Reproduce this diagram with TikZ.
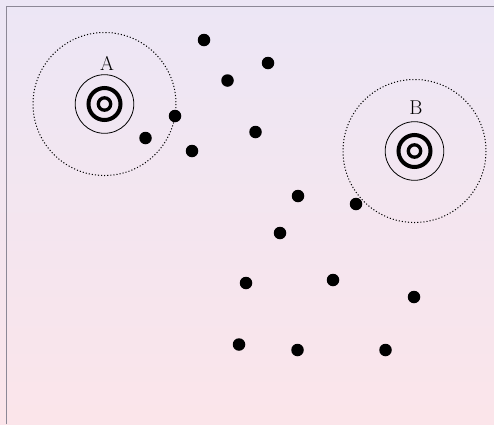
\documentclass[tikz,border=0pt]{standalone}
\usepackage{tikz}
\definecolor{bgtop}{RGB}{236,230,245}
\definecolor{bgbottom}{RGB}{251,229,234}
\definecolor{framegray}{RGB}{140,136,150}

\begin{document}
\begin{tikzpicture}[x=1pt, y=-1pt,
    dot/.style={circle, fill=black, inner sep=0pt, minimum size=12.5pt},
    zone/.style={dash pattern=on 1.1pt off 2pt, line width=1pt},
    label/.style={font=\fontsize{20}{20}\selectfont}]
  \useasboundingbox (0,0) rectangle (494,424);
  % Background
  \shade[top color=bgtop, bottom color=bgbottom] (0,0) rectangle (494,424);
  \draw[framegray, line width=1pt] (6,424) -- (6,6) -- (494,6);

  % Stations
  \coordinate (A) at (104.5,104);
  \coordinate (B) at (414.5,151);
  \draw[zone] (A) circle (71.5);
  \draw[zone] (B) circle (71.5);
  \draw[line width=0.8pt] (A) circle (29.3);
  \draw[line width=0.8pt] (B) circle (29.3);
  \draw[line width=4pt] (A) circle (16);
  \draw[line width=4pt] (B) circle (16);
  \draw[line width=3.3pt] (A) circle (6.2);
  \draw[line width=3.3pt] (B) circle (6.2);

  % Labels
  \node[label] (la) at (107,63) {A};
  \node[label] (lb) at (416,108) {B};

  % Points
  \node[dot] (p1) at (204,40) {};
  \node[dot] (p2) at (268,63) {};
  \node[dot] (p3) at (227.5,80.5) {};
  \node[dot] (p4) at (175,116) {};
  \node[dot] (p5) at (145.5,138) {};
  \node[dot] (p6) at (192,151) {};
  \node[dot] (p7) at (255.5,132) {};
  \node[dot] (p8) at (298,196) {};
  \node[dot] (p9) at (356,204) {};
  \node[dot] (p10) at (280,233) {};
  \node[dot] (p11) at (246,283) {};
  \node[dot] (p12) at (333,280) {};
  \node[dot] (p13) at (414,297) {};
  \node[dot] (p14) at (239,344.5) {};
  \node[dot] (p15) at (297.5,350) {};
  \node[dot] (p16) at (385.5,350) {};
\end{tikzpicture}
\end{document}
